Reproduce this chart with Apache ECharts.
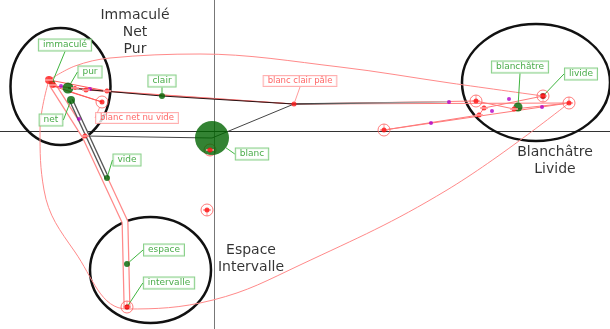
<!DOCTYPE html>
<html>
<head>
<meta charset="utf-8">
<script src="https://cdn.jsdelivr.net/npm/echarts@6/dist/echarts.min.js"></script>
<style>
    html, body { margin: 0; padding: 0; background: #fff; }
    #container { width: 610px; height: 329px; }
</style>
</head>
<body>
<div id="container"></div>
<script type="text/javascript">
    // mots (points actifs)
    var words = ['immaculé', 'pur', 'net', 'clair', 'vide', 'espace', 'intervalle', 'blanc', 'blanchâtre', 'livide'];
    var wordX = [-1.62, -1.46, -1.43, -0.52, -1.07, -0.87, -0.87, -0.02, 3.04, 3.29];
    var wordY = [0.48, 0.43, 0.31, 0.35, -0.47, -1.33, -1.76, -0.07, 0.24, 0.35];
    var wordWeight = [6, 11, 8, 6, 6, 6, 5, 34, 9, 6];

    // points supplementaires
    var supNames = ['', '', '', '', '', '', 'blanc clair pâle', '', '', ''];
    var supX = [-1.65, -1.61, -1.39, -1.28, -1.07, -1.29, 0.80, 3.00, 2.70, 2.65];
    var supY = [0.51, 0.46, 0.43, 0.41, 0.40, -0.05, 0.27, 0.22, 0.23, 0.16];
    var supWeight = [8, 6, 4, 5, 5, 5, 5, 5, 5, 5];

    var ringNames = ['', '', '', '', 'blanc net nu vide', '', '', ''];
    var ringX = [3.55, 2.62, 1.70, 3.29, -1.12, -0.87, -0.07, -0.04];
    var ringY = [0.28, 0.30, 0.01, 0.35, 0.29, -1.76, -0.79, -0.19];

    var purpleX = [2.35, 2.95, 2.78, 3.28, 2.17, -1.53, -1.24, -1.35];
    var purpleY = [0.29, 0.32, 0.20, 0.24, 0.08, 0.45, 0.42, 0.12];

    // trajets
    var pathLeft = [[-1.65, 0.51], [-1.07, 0.40], [-1.61, 0.45], [-1.12, 0.29], [-1.44, 0.39]];
    var pathMid = [[-1.07, 0.40], [0.80, 0.27], [2.62, 0.30], [3.00, 0.22], [3.55, 0.28]];
    var pathRight = [[-1.28, 0.41], [0.80, 0.27], [3.55, 0.28], [1.70, 0.01], [2.65, 0.16], [2.70, 0.23], [3.29, 0.35]];
    var arcTop = [[-1.65, 0.51], [-1.39, 0.65], [-1.04, 0.73], [-0.14, 0.77], [1.26, 0.64], [2.36, 0.48], [3.29, 0.35]];
    var arcBottom = [[-1.65, 0.51], [-1.74, 0.01], [-1.70, -0.59], [-1.39, -1.21], [-0.87, -1.78],
        [-0.01, -1.69], [0.86, -1.34], [2.33, -0.59], [3.55, 0.28]];
    var tube = [[-1.62, 0.47], [-1.29, -0.05], [-0.89, -0.91], [-0.87, -1.76]];
    var darkPath = [[-1.46, 0.43], [-0.52, 0.35], [0.80, 0.27]];
    var greyPath = [[0.80, 0.27], [2.35, 0.29]];
    var blancPath = [[-1.29, -0.05], [-0.02, -0.07], [0.80, 0.27]];
    var doublePath = [[-1.43, 0.31], [-1.07, -0.47]];

    // zones (centre x, centre y, demi-axes)
    var zoneNames = ['Immaculé\nNet\nPur', 'Blanchâtre\nLivide', 'Espace\nIntervalle'];
    var zoneEllipse = [[-1.535, 0.445, 0.50, 0.585], [3.22, 0.485, 0.74, 0.585], [-0.635, -1.39, 0.605, 0.53]];
    var zoneTitle = [[-0.79, 0.985], [3.41, -0.30], [0.37, -1.28]];

    // decalage des etiquettes (px)
    var wordOffsets = [[13, -38], [22, -16], [-20, 20], [0, -15], [20, -18], [37, -14], [42, -24], [40, 16], [2, -40], [38, -22]];
    var supOffsets = {6: [6, -23]};
    var ringOffsets = {4: [35, 16]};

    var font = 'DejaVu Sans';
    var dom = document.getElementById('container');
    var myChart = echarts.init(dom);

    function zip(xs, ys) {
        return xs.map(function (x, i) { return [x, ys[i]]; });
    }

    function lineSeries(data, color, width, smooth, z) {
        return {
            type: 'line', data: data, showSymbol: false, silent: true,
            smooth: smooth || false, z: z || 2,
            lineStyle: {color: color, width: width}
        };
    }

    var greenLabel = {
        show: true, position: 'inside', formatter: '{b}',
        fontFamily: font, fontSize: 9, lineHeight: 10, color: '#1a961a',
        backgroundColor: '#fff', borderColor: '#6cc46c', borderWidth: 1, padding: [1, 4, 0, 4]
    };
    var redLabel = {
        show: true, position: 'inside',
        formatter: function (p) { return p.name; },
        fontFamily: font, fontSize: 8.5, lineHeight: 10, color: '#ff4040',
        backgroundColor: '#fff', borderColor: '#ff9c9c', borderWidth: 1, padding: [0, 4, 0, 4]
    };

    var option = {
        animation: false,
        backgroundColor: '#fff',
        grid: {left: 0, right: 0, top: 0, bottom: 0},
        xAxis: {
            type: 'value', min: -2.14, max: 3.96,
            axisLine: {show: true, onZero: true, lineStyle: {color: '#333', width: 1}},
            axisTick: {show: false}, axisLabel: {show: false}, splitLine: {show: false}
        },
        yAxis: {
            type: 'value', min: -1.98, max: 1.31,
            axisLine: {show: true, onZero: true, lineStyle: {color: '#777', width: 1}},
            axisTick: {show: false}, axisLabel: {show: false}, splitLine: {show: false}
        },
        series: [
            {
                type: 'custom', silent: true, z: 1,
                data: zoneEllipse,
                encode: {x: 0, y: 1},
                renderItem: function (params, api) {
                    var c = api.coord([api.value(0), api.value(1)]);
                    var s = api.size([api.value(2), api.value(3)]);
                    return {
                        type: 'ellipse',
                        shape: {cx: c[0], cy: c[1], rx: s[0], ry: s[1]},
                        style: {fill: 'none', stroke: '#111', lineWidth: 2.5}
                    };
                }
            },
            lineSeries(tube, '#ff8a8a', 7, false, 2),
            lineSeries(tube, '#fff', 4.5, false, 2),
            lineSeries(arcTop, '#ff8a8a', 1, 0.35, 3),
            lineSeries(arcBottom, '#ff8a8a', 1, 0.4, 3),
            lineSeries(pathLeft, '#ff5a5a', 1, false, 3),
            lineSeries(pathMid, '#ff7a7a', 1, false, 3),
            lineSeries(pathRight, '#ff7a7a', 1, false, 3),
            lineSeries(doublePath, '#555', 4.5, false, 4),
            lineSeries(doublePath, '#fff', 1.8, false, 4),
            lineSeries(darkPath, '#2a1414', 1.2, false, 4),
            lineSeries(blancPath, '#444', 1, false, 4),
            {
                type: 'line', data: greyPath, showSymbol: false, silent: true, z: 4,
                lineStyle: {
                    width: 1.5,
                    color: new echarts.graphic.LinearGradient(0, 0, 1, 0, [
                        {offset: 0, color: '#333'}, {offset: 1, color: '#c8c8c8'}
                    ])
                }
            },
            {
                type: 'scatter', z: 5, silent: true,
                data: zip(purpleX, purpleY),
                symbolSize: 4, itemStyle: {color: '#b000c8'}
            },
            {
                type: 'scatter', z: 6, silent: true,
                data: zip(ringX, ringY).map(function (d, i) { return {name: ringNames[i], value: d}; }),
                symbolSize: 12,
                itemStyle: {color: 'rgba(255,255,255,0)', borderColor: '#ff5c5c', borderWidth: 1},
                label: redLabel,
                labelLine: {show: true, lineStyle: {color: '#ff9c9c', width: 1}},
                labelLayout: function (p) {
                    var o = ringOffsets[p.dataIndex];
                    return o ? {dx: o[0], dy: o[1]} : {};
                }
            },
            {
                type: 'scatter', z: 7, silent: true,
                data: zip(ringX, ringY),
                symbolSize: 5, itemStyle: {color: '#ff1010'}
            },
            {
                type: 'scatter', z: 6, silent: true,
                data: wordX.map(function (x, i) {
                    return {
                        name: words[i], value: [x, wordY[i]], symbolSize: wordWeight[i],
                        itemStyle: {color: (i === 6 || i === 9) ? '#7a0a0a' : '#006400'}
                    };
                }),
                label: greenLabel,
                labelLine: {show: true, lineStyle: {color: '#3fb53f', width: 1}},
                labelLayout: function (p) {
                    var o = wordOffsets[p.dataIndex];
                    return {dx: o[0], dy: o[1]};
                }
            },
            {
                type: 'scatter', z: 7, silent: true,
                data: supX.map(function (x, i) {
                    return {name: supNames[i], value: [x, supY[i]], symbolSize: supWeight[i]};
                }),
                itemStyle: {color: '#ff1a1a'},
                label: redLabel,
                labelLine: {show: true, lineStyle: {color: '#ff9c9c', width: 1}},
                labelLayout: function (p) {
                    var o = supOffsets[p.dataIndex];
                    return o ? {dx: o[0], dy: o[1]} : {};
                }
            },
            {
                type: 'scatter', z: 8, silent: true,
                data: zoneTitle.map(function (d, i) { return {name: zoneNames[i], value: d}; }),
                symbolSize: 0,
                label: {
                    show: true, position: 'inside', formatter: '{b}',
                    fontFamily: font, fontSize: 14, lineHeight: 17, color: '#000', align: 'center'
                }
            }
        ]
    };

    myChart.setOption(option);
</script>
</body>
</html>
